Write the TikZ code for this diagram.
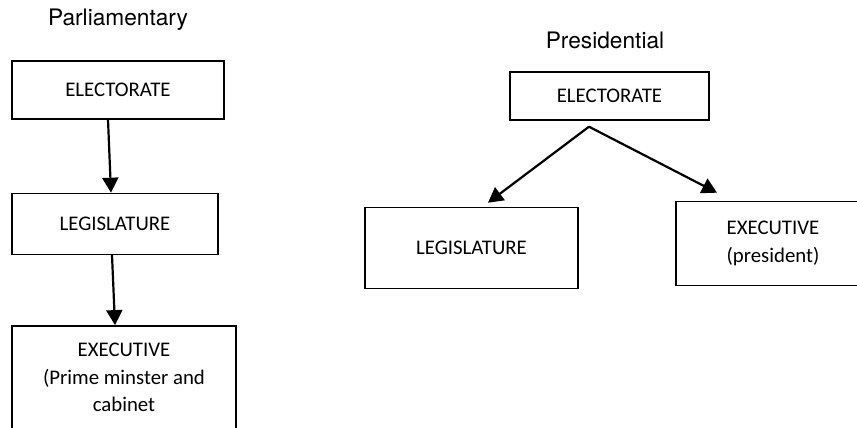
\documentclass[tikz,border=0pt]{standalone}
\usepackage{fontspec}
\setmainfont{Carlito}
\newfontfamily\titlefont{TeX Gyre Heros}
\usetikzlibrary{positioning,arrows.meta}

\begin{document}
\begin{tikzpicture}[x=1pt, y=1pt,
    box/.style={draw, line width=1.4pt, inner sep=0pt, align=center,
        font=\fontsize{20.8}{27.5}\selectfont},
    arr/.style={-{Triangle[length=15pt,width=16pt]}, line width=2.2pt},
    title/.style={font=\titlefont\fontsize{22.7}{26}\selectfont}]
    \useasboundingbox (0,0) rectangle (857,-428);

    % parliamentary
    \node[title] (parl) at (118,-20) {Parliamentary};
    \node[box, minimum width=212pt, minimum height=58pt] (elecP) at (118,-90) {ELECTORATE};
    \node[box, minimum width=206pt, minimum height=61pt] (legP) [below=73pt of elecP, xshift=-3pt] {LEGISLATURE};
    \node[box, minimum width=224pt, minimum height=104pt] (execP) [below=70pt of legP, xshift=9pt]
        {EXECUTIVE\\(Prime minster and\\cabinet};

    \draw[arr] ([xshift=-10pt]elecP.south) -- ([xshift=-4pt]legP.north);
    \draw[arr] ([xshift=-3pt]legP.south) -- ([xshift=-9pt]execP.north);

    % presidential
    \node[title] (pres) at (605,-40) {Presidential};
    \node[box, minimum width=199pt, minimum height=48pt] (elecR) at (609.5,-96) {ELECTORATE};
    \node[box, minimum width=213pt, minimum height=81pt] (legR) [below=86pt of elecR, xshift=-138pt] {LEGISLATURE};
    \node[box, minimum width=194pt, minimum height=84pt] (execR) [below=80pt of elecR, xshift=163.5pt]
        {EXECUTIVE\\(president)};

    \coordinate (fork) at ([xshift=-20.5pt, yshift=-6pt]elecR.south);
    \draw[arr] (fork) -- ([xshift=16.5pt, yshift=4pt]legR.north);
    \draw[arr] (fork) -- ([xshift=-56pt, yshift=8pt]execR.north);
\end{tikzpicture}
\end{document}
